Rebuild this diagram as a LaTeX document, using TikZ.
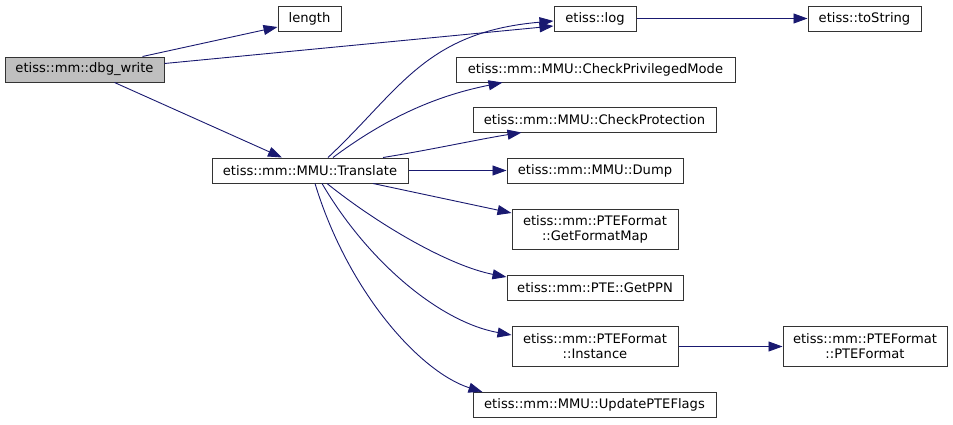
\documentclass[tikz,border=0pt]{standalone}
\usepackage{fontspec}
\setmainfont{DejaVu Sans}
\usetikzlibrary{arrows.meta,calc}
\definecolor{edgeblue}{HTML}{191970}
\definecolor{boxline}{HTML}{333333}
\definecolor{curfill}{HTML}{BFBFBF}
\begin{document}
\begin{tikzpicture}[x=1pt,y=-1pt,
  fn/.style={draw=boxline,line width=1pt,fill=white,inner sep=0pt,align=center,
    font=\fontsize{13.1}{15}\selectfont},
  cur/.style={fn,fill=curfill},
  call/.style={draw=edgeblue,line width=0.9pt,-{Triangle[length=14pt,width=10pt]}}]
\useasboundingbox (0,0) rectangle (953,424);
\node[cur,minimum width=159pt,minimum height=25pt] (dbg) at (84.5,69.5) {etiss::mm::dbg\_write};
\node[fn,minimum width=63pt,minimum height=25pt] (len) at (309.5,18.5) {length};
\node[fn,minimum width=196pt,minimum height=25pt] (tr) at (310,170.5) {etiss::mm::MMU::Translate};
\node[fn,minimum width=82pt,minimum height=25pt] (log) at (595,18.5) {etiss::log};
\node[fn,minimum width=113pt,minimum height=25pt] (ts) at (864.5,18.5) {etiss::toString};
\node[fn,minimum width=279pt,minimum height=25pt] (cpm) at (595.5,69.5) {etiss::mm::MMU::CheckPrivilegedMode};
\node[fn,minimum width=243pt,minimum height=25pt] (cp) at (594.5,119.5) {etiss::mm::MMU::CheckProtection};
\node[fn,minimum width=176pt,minimum height=25pt] (dump) at (595,170.5) {etiss::mm::MMU::Dump};
\node[fn,minimum width=166pt,minimum height=40pt] (gfm) at (595,229) {etiss::mm::PTEFormat\\::GetFormatMap};
\node[fn,minimum width=176pt,minimum height=25pt] (ppn) at (595,288) {etiss::mm::PTE::GetPPN};
\node[fn,minimum width=166pt,minimum height=40pt] (inst) at (595,346.5) {etiss::mm::PTEFormat\\::Instance};
\node[fn,minimum width=243pt,minimum height=25pt] (upf) at (594.5,405) {etiss::mm::MMU::UpdatePTEFlags};
\node[fn,minimum width=164pt,minimum height=40pt] (ptef) at (865,346.5) {etiss::mm::PTEFormat\\::PTEFormat};

\draw[call] ($(dbg.north)+(58,0)$) -- ($(len.west)+(0,8.5)$);
\draw[call] ($(dbg.east)+(0,-6)$) -- ($(log.west)+(0,7.5)$);
\draw[call] ($(dbg.south)+(30,0)$) -- ($(tr.north)+(-28,0)$);
\draw[call] ($(tr.north)+(18,0)$) .. controls (400,90) and (425,32) .. ($(log.west)+(0,2.5)$);
\draw[call] ($(tr.north)+(23,0)$) .. controls (390,115) and (440,95) .. ($(cpm.south west)+(47,0)$);
\draw[call] ($(tr.north)+(73,0)$) .. controls (430,150) and (480,139) .. ($(cp.south west)+(49,0)$);
\draw[call] (tr.east) -- (dump.west);
\draw[call] ($(tr.south)+(63,0)$) -- ($(gfm.west)+(0,-16)$);
\draw[call] ($(tr.south)+(17,0)$) .. controls (380,226) and (450,266) .. ($(ppn.west)+(0,-11)$);
\draw[call] ($(tr.south)+(12,0)$) .. controls (368,262) and (440,322) .. ($(inst.west)+(0,-11.5)$);
\draw[call] ($(tr.south)+(5,0)$) .. controls (348,292) and (420,372) .. ($(upf.north west)+(10,0)$);
\draw[call] (log.east) -- (ts.west);
\draw[call] (inst.east) -- (ptef.west);
\end{tikzpicture}
\end{document}
